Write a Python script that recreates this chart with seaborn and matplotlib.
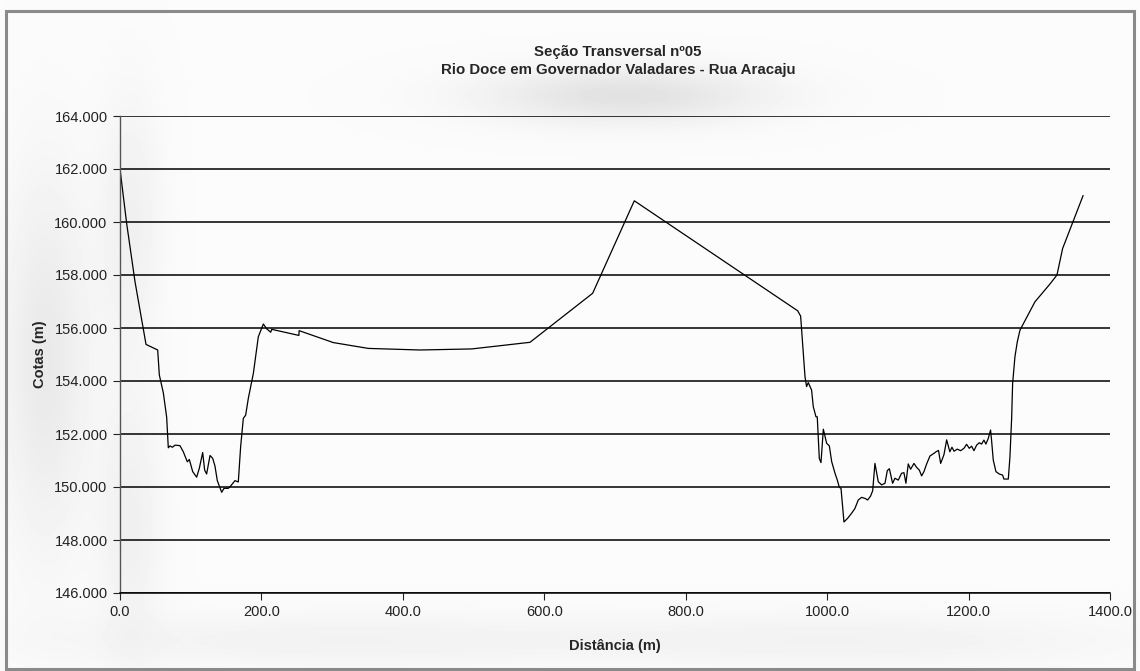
import numpy as np
import pandas as pd
import matplotlib
matplotlib.use("Agg")
import matplotlib.pyplot as plt
import seaborn as sns
from matplotlib.patches import Rectangle

# Levantamento topobatimétrico: distância acumulada (m) e cota (m)
distancia = [
    0.0, 9.4, 21.2, 36.8, 53.3, 55.6, 61.3, 66.0, 68.3, 70.7, 74.0, 78.0,
    84.8, 89.5, 95.2, 98.0, 102.8, 108.4, 112.2, 116.9, 119.7, 122.5, 127.3,
    131.1, 134.3, 137.6, 143.8, 147.1, 153.2, 156.5, 162.6, 167.3, 170.6,
    174.4, 177.7, 181.5, 188.6, 195.6, 202.7, 207.4, 213.1, 214.5, 253.0,
    253.3, 301.6, 351.1, 424.2, 497.3, 579.8, 668.4, 727.3, 958.3, 962.5,
    968.7, 970.9, 973.3, 978.0, 980.4, 984.2, 986.0, 988.9, 991.3, 994.6,
    999.3, 1003.1, 1006.4, 1011.1, 1014.4, 1017.2, 1019.6, 1023.8, 1029.0,
    1034.6, 1039.3, 1044.0, 1048.8, 1053.5, 1057.3, 1061.5, 1064.4, 1067.6,
    1072.3, 1077.0, 1081.8, 1085.1, 1088.0, 1092.6, 1095.9, 1100.6, 1105.3,
    1108.6, 1111.4, 1114.7, 1118.0, 1122.8, 1126.5, 1130.3, 1133.6, 1136.9,
    1140.7, 1145.4, 1151.1, 1154.0, 1157.5, 1160.5, 1165.2, 1169.0, 1173.5,
    1176.5, 1179.5, 1184.0, 1188.8, 1193.5, 1197.2, 1201.0, 1204.3, 1207.6,
    1211.4, 1215.1, 1218.4, 1221.7, 1224.5, 1227.8, 1231.1, 1232.5, 1234.9,
    1238.7, 1243.4, 1248.1, 1250.0, 1256.2, 1258.5, 1260.9, 1262.3, 1265.6,
    1268.9, 1272.7, 1293.9, 1315.1, 1325.0, 1333.0, 1362.0,
]
cota = [
    162.00, 159.95, 157.75, 155.38, 155.17, 154.23, 153.55, 152.63, 151.48,
    151.55, 151.50, 151.58, 151.56, 151.33, 150.95, 151.04, 150.58, 150.37,
    150.71, 151.30, 150.64, 150.49, 151.19, 151.08, 150.79, 150.24, 149.80,
    149.95, 149.95, 150.04, 150.24, 150.19, 151.52, 152.59, 152.71, 153.35,
    154.29, 155.67, 156.15, 155.97, 155.84, 155.95, 155.72, 155.90, 155.45,
    155.23, 155.17, 155.21, 155.46, 157.31, 160.80, 156.65, 156.45, 154.16,
    153.79, 153.94, 153.66, 153.03, 152.65, 152.65, 151.08, 150.92, 152.18,
    151.65, 151.55, 150.96, 150.52, 150.26, 149.99, 149.95, 148.68, 148.82,
    149.01, 149.19, 149.51, 149.61, 149.57, 149.51, 149.66, 149.86, 150.89,
    150.20, 150.08, 150.14, 150.62, 150.69, 150.14, 150.33, 150.26, 150.52,
    150.54, 150.14, 150.87, 150.67, 150.89, 150.74, 150.64, 150.42, 150.58,
    150.87, 151.17, 151.27, 151.33, 151.38, 150.89, 151.22, 151.78, 151.33,
    151.50, 151.35, 151.43, 151.37, 151.46, 151.61, 151.46, 151.54, 151.37,
    151.58, 151.67, 151.62, 151.77, 151.62, 151.83, 152.15, 151.77, 151.02,
    150.58, 150.49, 150.45, 150.30, 150.30, 151.14, 152.59, 153.91, 154.92,
    155.48, 155.92, 156.99, 157.66, 158.00, 159.00, 161.00,
]

titulo = "Seção Transversal nº05\nRio Doce em Governador Valadares - Rua Aracaju"
rotulo_x = "Distância (m)"
rotulo_y = "Cotas (m)"
ticks_x = [0, 200, 400, 600, 800, 1000, 1200, 1400]
ticks_y = [146, 148, 150, 152, 154, 156, 158, 160, 162, 164]

secao = pd.DataFrame({"distancia": distancia, "cota": cota})

sns.set_theme(style="white")
plt.rcParams["font.family"] = ["Liberation Sans", "DejaVu Sans"]

W, H = 1140, 671
fig = plt.figure(figsize=(W / 100, H / 100), dpi=100, facecolor="#fbfbfb")

# soft shading behind the chart texts
bg = fig.add_axes([0, 0, 1, 1], zorder=-5)
yy, xx = np.mgrid[0:H, 0:W]
shade = np.zeros((H, W))
for cx, cy, sx, sy, a in [
    (625, 95, 100, 20, 0.10),
    (45, 360, 30, 130, 0.07),
    (330, 640, 200, 20, 0.035),
    (850, 640, 200, 20, 0.035),
    (130, 220, 22, 90, 0.045),
    (130, 520, 22, 90, 0.045),
]:
    shade += a * np.exp(-(((xx - cx) / sx) ** 2 + ((yy - cy) / sy) ** 2) / 2)
img = np.clip(0.985 - shade, 0, 1)
bg.imshow(img, cmap="gray", vmin=0, vmax=1, extent=[0, W, H, 0], aspect="auto")
bg.set_axis_off()

# chart frame
fig.patches.append(Rectangle((6 / W, 2 / H), 1128 / W, 658 / H,
                             transform=fig.transFigure, fill=False,
                             edgecolor="#8a8a8a", linewidth=2.2, zorder=10))

ax = fig.add_axes([120 / W, 1 - 593 / H, 990 / W, 477 / H])
ax.patch.set_alpha(0)

sns.lineplot(data=secao, x="distancia", y="cota", sort=False, estimator=None,
             color="black", linewidth=0.9, ax=ax)

ax.set_xlim(0, 1400)
ax.set_ylim(146, 164)
ax.set_xticks(ticks_x)
ax.set_xticklabels([f"{v:.1f}" for v in ticks_x])
ax.set_yticks(ticks_y)
ax.set_yticklabels([f"{v:.3f}" for v in ticks_y])
ax.tick_params(axis="both", labelsize=10.5, colors="#222222", length=5,
               width=0.8, direction="out", pad=4, left=True, bottom=True)
ax.yaxis.grid(True, color="black", linewidth=1.1)
ax.set_axisbelow(True)
for s in ["top", "right"]:
    ax.spines[s].set_visible(False)
ax.spines["left"].set_color("#555555")
ax.spines["left"].set_linewidth(1.0)
ax.spines["bottom"].set_color("black")
ax.spines["bottom"].set_linewidth(1.1)

ax.set_xlabel(rotulo_x, fontsize=10.5, fontweight="bold", labelpad=14)
ax.set_ylabel(rotulo_y, fontsize=10.5, fontweight="bold", labelpad=5)

fig.text(618 / W, 1 - 61 / H, titulo, ha="center", va="center",
         fontsize=10.8, fontweight="bold", linespacing=1.45)

fig.savefig("out.png", dpi=100, facecolor=fig.get_facecolor())
